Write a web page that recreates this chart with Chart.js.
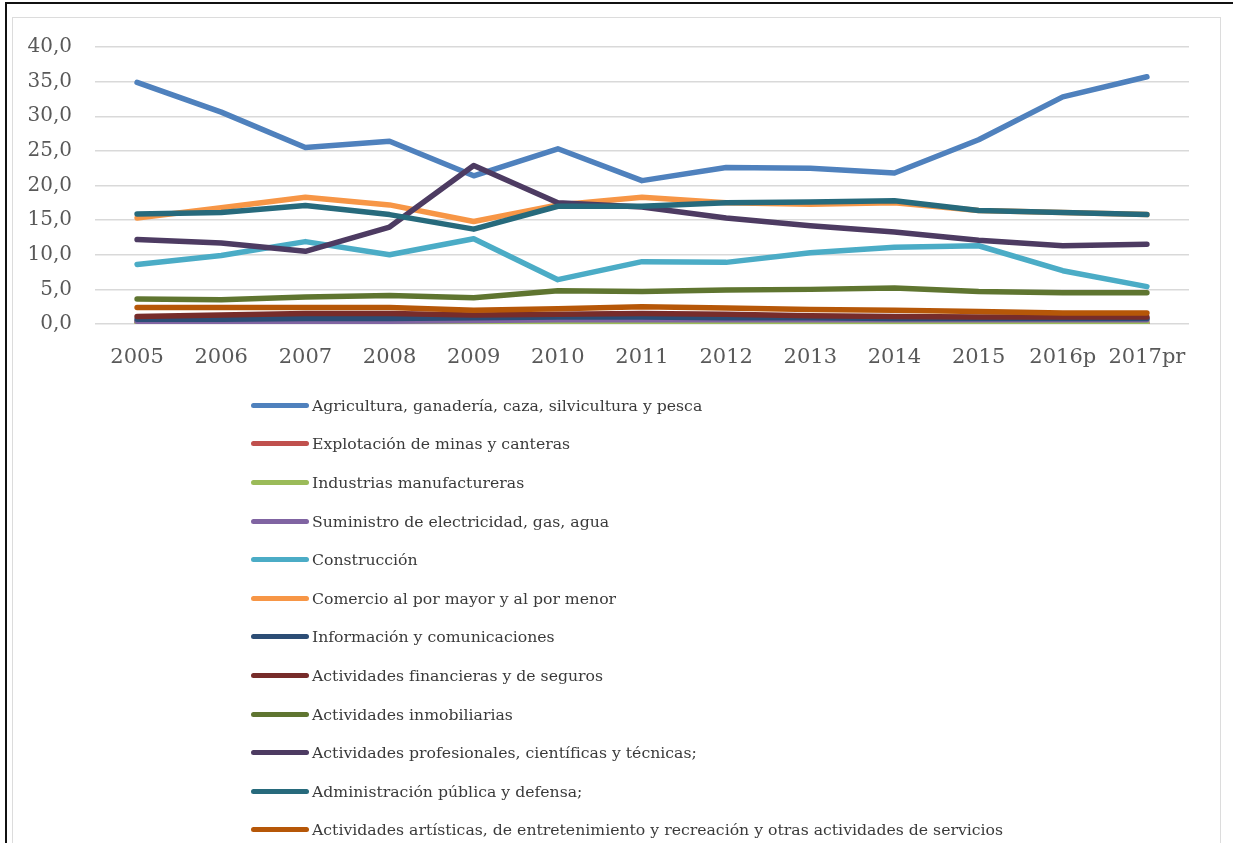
<!DOCTYPE html>
<html lang="es">
<head>
<meta charset="utf-8">
<title>Participación por actividad económica</title>
<script src="https://cdn.jsdelivr.net/npm/chart.js@4.4.1/dist/chart.umd.min.js"></script>
<style>
    html, body {
        margin: 0;
        padding: 0;
        background: #fff;
        width: 1233px;
        height: 843px;
        overflow: hidden;
    }
    .marco {
        position: absolute;
        left: 5px;
        top: 2px;
        width: 1240px;
        height: 900px;
        border-left: 2px solid #111;
        border-top: 2px solid #111;
    }
    .caja {
        position: absolute;
        left: 12px;
        top: 17px;
        width: 1207px;
        height: 900px;
        border: 1px solid #dcdcdc;
    }
    #lineasChart {
        position: absolute;
        left: 20px;
        top: 20px;
    }
    #leyenda {
        position: absolute;
        left: 251px;
        top: 386px;
        font-family: "DejaVu Serif", serif;
        font-size: 15.7px;
        color: #3a3a3a;
    }
    .item-leyenda {
        height: 38.6px;
        display: flex;
        align-items: center;
        white-space: nowrap;
    }
    .muestra {
        width: 58px;
        height: 5px;
        border-radius: 3px;
        margin-right: 3px;
    }
</style>
</head>
<body>
<div class="marco"></div>
<div class="caja"></div>
<canvas id="lineasChart" width="1190" height="370"></canvas>
<div id="leyenda"></div>

<script>
// Años y series (porcentajes)
const anios = ['2005', '2006', '2007', '2008', '2009', '2010', '2011', '2012', '2013', '2014', '2015', '2016p', '2017pr'];

const agricultura    = [34.9, 30.6, 25.5, 26.4, 21.4, 25.3, 20.7, 22.6, 22.5, 21.8, 26.6, 32.8, 35.7];
const minas          = [0.3, 0.3, 0.2, 0.2, 0.2, 0.2, 0.2, 0.2, 0.2, 0.2, 0.1, 0.1, 0.1];
const manufactura    = [0.2, 0.2, 0.2, 0.2, 0.3, 0.3, 0.3, 0.3, 0.3, 0.3, 0.3, 0.3, 0.3];
const electricidad   = [0.4, 0.4, 0.4, 0.4, 0.5, 0.6, 0.6, 0.6, 0.6, 0.6, 0.6, 0.6, 0.6];
const construccion   = [8.6, 9.9, 11.9, 10.0, 12.3, 6.4, 9.0, 8.9, 10.3, 11.1, 11.3, 7.7, 5.4];
const comercio       = [15.3, 16.8, 18.3, 17.2, 14.8, 17.2, 18.3, 17.5, 17.3, 17.5, 16.4, 16.1, 15.8];
const informacion    = [0.7, 0.7, 0.8, 0.8, 0.9, 1.0, 1.0, 0.9, 0.9, 0.8, 0.8, 0.8, 0.8];
const financieras    = [1.1, 1.3, 1.5, 1.5, 1.3, 1.4, 1.5, 1.4, 1.2, 1.1, 1.0, 1.0, 1.0];
const inmobiliarias  = [3.6, 3.5, 3.9, 4.1, 3.8, 4.8, 4.7, 4.9, 5.0, 5.2, 4.7, 4.5, 4.5];
const profesionales  = [12.2, 11.7, 10.5, 14.0, 22.9, 17.5, 16.9, 15.3, 14.2, 13.3, 12.1, 11.3, 11.5];
const administracion = [15.9, 16.1, 17.1, 15.8, 13.7, 17.0, 17.0, 17.5, 17.6, 17.8, 16.4, 16.1, 15.8];
const artisticas     = [2.4, 2.4, 2.4, 2.4, 2.0, 2.2, 2.5, 2.3, 2.1, 2.0, 1.8, 1.6, 1.6];

const nombres = [
    'Agricultura, ganadería, caza, silvicultura y pesca',
    'Explotación de minas y canteras',
    'Industrias manufactureras',
    'Suministro de electricidad, gas, agua',
    'Construcción',
    'Comercio al por mayor y al por menor',
    'Información y comunicaciones',
    'Actividades financieras y de seguros',
    'Actividades inmobiliarias',
    'Actividades profesionales, científicas y técnicas;',
    'Administración pública y defensa;',
    'Actividades artísticas, de entretenimiento y recreación y otras actividades de servicios'
];
const series = [agricultura, minas, manufactura, electricidad, construccion, comercio,
                informacion, financieras, inmobiliarias, profesionales, administracion, artisticas];

// Paleta tipo Office
const colores = ['#4f81bd', '#c0504d', '#9bbb59', '#8064a2', '#4bacc6', '#f79646',
                 '#2c4d75', '#772c2a', '#5f7530', '#4d3b62', '#276a7c', '#b65708'];

const yTicks = { min: 0, max: 40, paso: 5 };

const datasets = series.map((valores, i) => ({
    label: nombres[i],
    data: valores,
    borderColor: colores[i],
    backgroundColor: colores[i],
    borderWidth: 5.5,
    pointRadius: 0,
    tension: 0,
    borderCapStyle: 'round',
    borderJoinStyle: 'round',
    // las últimas series quedan encima
    order: series.length - i
}));

// Área de trazado fija: 27 px arriba y 66 px abajo dentro del lienzo
const areaFija = {
    id: 'areaFija',
    afterLayout(chart) {
        const a = chart.chartArea;
        a.top = 27;
        a.bottom = chart.height - 66;
        a.height = a.bottom - a.top;
        const y = chart.scales.y;
        y.top = a.top;
        y.bottom = a.bottom;
        y.height = a.height;
        y.configure();
        const x = chart.scales.x;
        x.top = a.bottom;
        x.bottom = chart.height;
    }
};

const ctx = document.getElementById('lineasChart');
const grafica = new Chart(ctx, {
    type: 'line',
    data: { labels: anios, datasets: datasets },
    plugins: [areaFija],
    options: {
        responsive: false,
        animation: false,
        devicePixelRatio: 1,
        layout: {
            padding: { top: 27, right: 21, bottom: 0, left: 0 }
        },
        plugins: {
            legend: { display: false },
            tooltip: { enabled: false }
        },
        scales: {
            x: {
                offset: true,
                grid: { display: false },
                border: { display: false },
                ticks: {
                    color: '#595959',
                    padding: 13,
                    maxRotation: 0,
                    autoSkip: false,
                    font: { family: 'DejaVu Serif', size: 21 }
                },
                afterFit: function(scale) { scale.height = 66; }
            },
            y: {
                min: yTicks.min,
                max: yTicks.max,
                grid: {
                    color: '#d9d9d9',
                    lineWidth: 1.5,
                    drawTicks: false
                },
                border: { display: false },
                ticks: {
                    stepSize: yTicks.paso,
                    color: '#595959',
                    padding: 23,
                    font: { family: 'DejaVu Serif', size: 20 },
                    callback: function(valor) {
                        return valor.toFixed(1).replace('.', ',');
                    }
                },
                afterFit: function(scale) { scale.width = 75; }
            }
        }
    }
});

// Leyenda vertical debajo de la gráfica
const leyenda = document.getElementById('leyenda');
grafica.data.datasets.forEach((ds) => {
    const item = document.createElement('div');
    item.className = 'item-leyenda';
    item.innerHTML = `<span class="muestra" style="background:${ds.borderColor}"></span><span>${ds.label}</span>`;
    leyenda.appendChild(item);
});
</script>
</body>
</html>
